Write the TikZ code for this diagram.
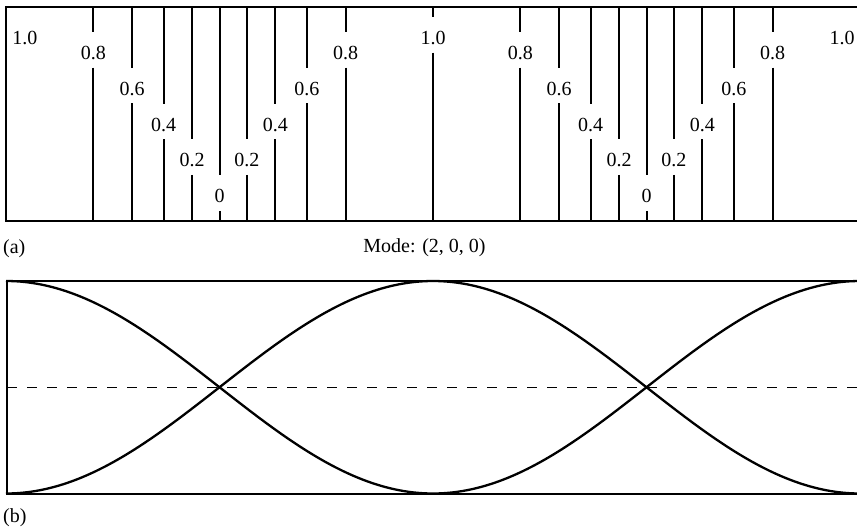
\documentclass[tikz,border=0pt]{standalone}
\usepackage{fontspec}
\setmainfont{Liberation Serif}
\begin{document}
\begin{tikzpicture}[x=1pt,y=-1pt,
  frame/.style={line width=2pt},
  vline/.style={line width=2pt},
  curve/.style={line width=2.3pt},
  midline/.style={line width=1.4pt,dash pattern=on 10pt off 10pt},
  txt/.style={font=\fontsize{20}{24}\selectfont,inner sep=0pt},
  lab/.style={txt,anchor=base,text height=27.3pt,text depth=8pt,inner xsep=2pt}]
\useasboundingbox (0,0) rectangle (857,531);
\clip (0,0) rectangle (857,531);
% panel (a)
\draw[frame] (6,7) rectangle (860,220.7);
\node[txt,anchor=base] (ea) at (25,44.3) {1.0};
\node[txt,anchor=base] (eb) at (842,44.3) {1.0};
\node[lab] (lc) at (433,44.3) {1.0};
\draw[vline] (433,7) -- (lc.north);
\draw[vline] (lc.south) -- (433,220.7);
\foreach \v/\yb [count=\i] in {0.8/59.3,0.6/95,0.4/131,0.2/166.7}{
  \pgfmathsetmacro\p{acos(\v)/360*854}
  \foreach \xx [count=\j] in {6+\p,433-\p,433+\p,860-\p}{
    \pgfmathsetmacro\X{\xx}
    \node[lab] (l\i\j) at (\X,\yb) {\v};
    \draw[vline] (\X,7) -- (l\i\j.north);
    \draw[vline] (l\i\j.south) -- (\X,220.7);
  }
}
\foreach \X [count=\j] in {219.5,646.5}{
  \node[lab] (z\j) at (\X,202.7) {0};
  \draw[vline] (\X,7) -- (z\j.north);
  \draw[vline] (z\j.south) -- (\X,220.7);
}
\node[txt,anchor=base west] (capa) at (3,253) {(a)};
\node[txt,anchor=base] (mode) at (424.5,252) {Mode: (2, 0, 0)};
% panel (b)
\draw[frame] (7,281) rectangle (860,493.5);
\draw[midline] (7,387.25) -- (860,387.25);
\draw[curve] plot[domain=6:860,samples=240,smooth] (\x,{387.25-106.25*cos((\x-6)/854*360)});
\draw[curve] plot[domain=6:860,samples=240,smooth] (\x,{387.25+106.25*cos((\x-6)/854*360)});
\node[txt,anchor=base west] (capb) at (3,522) {(b)};
\end{tikzpicture}
\end{document}
